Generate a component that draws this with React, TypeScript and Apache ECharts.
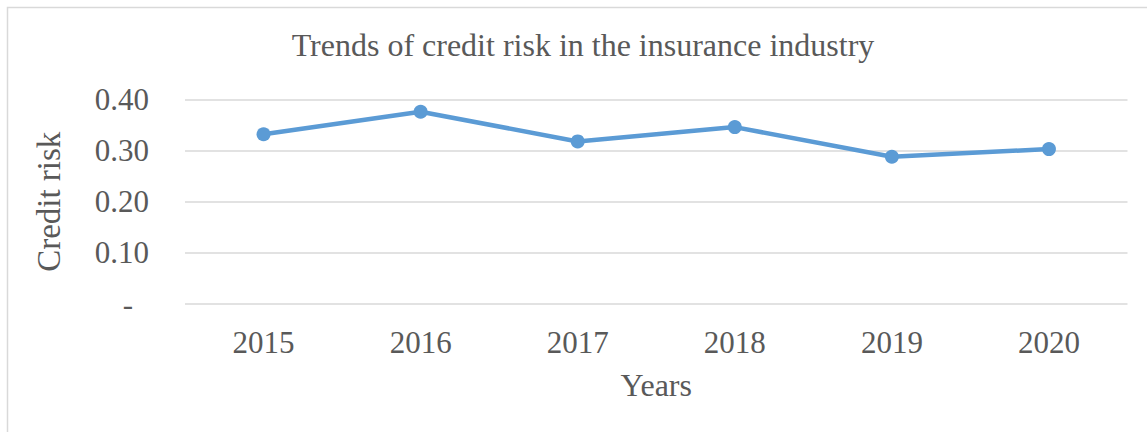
import React, { useEffect, useRef } from "react";
import * as echarts from "echarts";

const years = ["2015", "2016", "2017", "2018", "2019", "2020"];
const creditRisk = [0.332, 0.376, 0.318, 0.346, 0.288, 0.303];
const yTicks = [0, 0.1, 0.2, 0.3, 0.4];

const FONT = '"Liberation Serif", "Times New Roman", serif';
const TEXT = "#595959";

export default function App() {
  const ref = useRef<HTMLDivElement>(null);
  useEffect(() => {
    if (!ref.current) return;
    const chart = echarts.init(ref.current, undefined, { renderer: "svg" });
    chart.setOption({
      animation: false,
      backgroundColor: "#ffffff",
      textStyle: { fontFamily: FONT, color: TEXT },
      title: {
        text: "Trends of credit risk in the insurance industry",
        left: 578,
        textAlign: "center",
        top: 24,
        textStyle: { fontFamily: FONT, color: TEXT, fontSize: 32, fontWeight: "normal" },
      },
      graphic: [
        {
          type: "rect",
          shape: { x: 7.5, y: 7.5, width: 1200, height: 500 },
          style: { fill: "none", stroke: "#D9D9D9", lineWidth: 1.5 },
          silent: true,
        },
      ],
      grid: { left: 185, right: 19.5, top: 99.5, bottom: 128 },
      xAxis: {
        type: "category",
        data: years,
        boundaryGap: true,
        axisLine: { show: false },
        axisTick: { show: false },
        axisLabel: { fontFamily: FONT, color: TEXT, fontSize: 31, margin: 23 },
        name: "Years",
        nameLocation: "middle",
        nameGap: 65,
        nameTextStyle: { fontFamily: FONT, color: TEXT, fontSize: 32 },
      },
      yAxis: {
        type: "value",
        min: yTicks[0],
        max: yTicks[yTicks.length - 1],
        interval: 0.1,
        axisLine: { show: false },
        axisTick: { show: false },
        splitLine: { lineStyle: { color: "#D9D9D9", width: 1.5 } },
        axisLabel: {
          fontFamily: FONT,
          color: TEXT,
          fontSize: 31,
          margin: 36,
          formatter: (v: number) => (Math.abs(v) < 1e-9 ? "{d|-}" : v.toFixed(2)),
          rich: { d: { fontFamily: FONT, color: TEXT, fontSize: 31, padding: [0, 16, 0, 0] } },
        },
        name: "Credit risk",
        nameLocation: "middle",
        nameGap: 120,
        nameRotate: 90,
        nameTextStyle: { fontFamily: FONT, color: TEXT, fontSize: 33 },
      },
      series: [
        {
          type: "line",
          data: creditRisk,
          symbol: "circle",
          symbolSize: 14,
          lineStyle: { color: "#5B9BD5", width: 4.5 },
          itemStyle: { color: "#5B9BD5" },
        },
      ],
    });
    return () => chart.dispose();
  }, []);
  return (
    <div
      ref={ref}
      style={{ position: "absolute", left: 0, top: 0, width: 1147, height: 432 }}
    />
  );
}
